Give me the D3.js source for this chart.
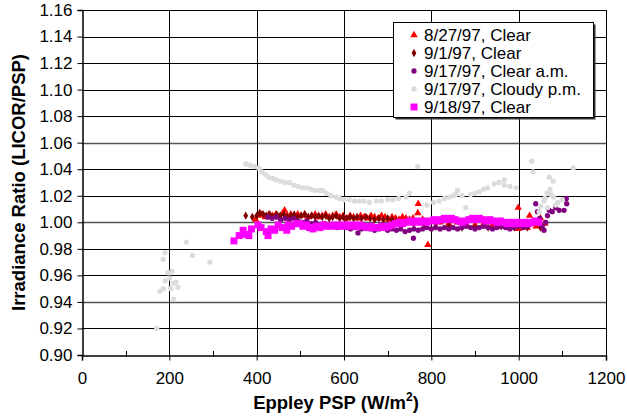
<!DOCTYPE html>
<html>
<head>
<meta charset="utf-8">
<script src="https://cdn.jsdelivr.net/npm/d3@7/dist/d3.min.js"></script>
<style>
	body { margin: 0; background: #fff; }
	text { font-family: "Liberation Sans", Arial, sans-serif; }
</style>
</head>
<body>
<div class="ratio-chart"></div>
<script>
// [Eppley PSP (W/m2), ratio]
let aug27Clear = [[398,1.002],[405,1.005],[412,1.006],[420,1.004],[428,1.006],[436,1.005],[444,1.006],[452,1.004],[460,1.007],[464,1.009],[470,1.005],[478,1.006],[486,1.004],[494,1.006],[502,1.005],[510,1.006],[518,1.004],[526,1.005],[534,1.006],[542,1.004],[550,1.005],[558,1.006],[566,1.004],[574,1.005],[582,1.006],[590,1.004],[598,1.005],[606,1.003],[614,1.005],[622,1.004],[630,1.003],[638,1.005],[646,1.004],[654,1.003],[662,1.005],[670,1.004],[678,1.003],[686,1.005],[694,1.004],[702,1.002],[710,1.004],[718,1.003],[726,1.002],[734,1.004],[742,1.003],[750,1.002],[758,1.003],[769,1.007],[770,1.014],[780,1.002],[792,0.983],[800,1.001],[820,1.000],[840,0.999],[860,1.000],[880,0.999],[900,0.998],[920,0.999],[940,0.998],[960,0.997],[980,0.996],[999,1.011],[1000,0.995],[1020,0.996],[1025,1.005],[1040,0.997],[1050,1.003],[1060,0.999]];
let sep1Clear = [[375,1.005],[390,1.004],[400,1.005],[407,1.007],[415,1.006],[422,1.005],[430,1.006],[438,1.004],[446,1.006],[454,1.005],[462,1.006],[470,1.004],[478,1.005],[486,1.006],[494,1.004],[502,1.005],[510,1.006],[518,1.004],[526,1.005],[534,1.004],[542,1.005],[550,1.004],[558,1.005],[566,1.003],[574,1.004],[582,1.005],[590,1.003],[598,1.004],[606,1.003],[614,1.004],[622,1.003],[630,1.004],[640,1.003],[650,1.004],[660,1.003],[670,1.002],[680,1.003],[690,1.002],[700,1.003],[710,1.002],[720,1.001],[740,1.000],[760,0.999],[784,0.998],[810,0.997],[840,0.997],[870,0.996],[900,0.996],[930,0.996],[960,0.997],[990,0.996],[1020,0.996],[1050,0.996]];
let sep17ClearAm = [[425,1.004],[435,1.003],[445,1.004],[455,1.002],[465,1.003],[475,1.002],[485,1.003],[495,1.001],[505,1.000],[515,1.001],[525,0.999],[535,1.000],[545,0.998],[555,0.999],[565,0.997],[575,0.998],[585,0.996],[595,0.997],[605,0.996],[615,0.995],[625,0.996],[632,0.992],[640,0.995],[650,0.996],[660,0.995],[670,0.994],[680,0.995],[690,0.996],[700,0.994],[710,0.995],[720,0.994],[730,0.995],[740,0.993],[750,0.994],[759,0.988],[760,0.995],[770,0.994],[780,0.995],[790,0.996],[800,0.995],[810,0.996],[820,0.995],[830,0.996],[840,0.995],[850,0.996],[860,0.995],[870,0.996],[880,0.997],[890,0.996],[900,0.995],[910,0.996],[920,0.997],[930,0.996],[940,0.995],[950,0.996],[960,0.997],[970,0.996],[980,0.995],[990,0.996],[1000,0.997],[1010,0.996],[1020,0.997],[1030,0.999],[1039,1.014],[1043,1.008],[1048,1.003],[1054,0.997],[1058,0.994],[1062,1.000],[1066,1.005],[1070,1.009],[1077,1.008],[1085,1.011],[1093,1.009],[1104,1.009],[1109,1.018],[1110,1.014]];
let sep17CloudyPm = [[171,0.920],[178,0.948],[186,0.950],[186,0.972],[190,0.977],[191,0.956],[197,0.962],[201,0.958],[203,0.950],[206,0.963],[209,0.954],[210,0.942],[215,0.955],[220,0.951],[239,0.985],[253,0.975],[293,0.970],
	[375,1.044],[385,1.043],[395,1.042],[405,1.041],[412,1.038],[420,1.036],[428,1.034],[437,1.033],[445,1.032],[455,1.031],[465,1.030],[475,1.030],[485,1.028],[495,1.027],[505,1.026],[514,1.026],[524,1.025],[534,1.024],[544,1.024],[551,1.024],[560,1.022],[570,1.020],[582,1.019],[590,1.018],[600,1.017],[612,1.017],[624,1.016],[635,1.016],[646,1.016],[658,1.015],[674,1.016],[686,1.016],[700,1.017],[712,1.017],[725,1.018],[742,1.019],[750,1.022],[769,1.042],[790,1.013],[805,1.015],[818,1.016],[830,1.018],[841,1.019],[850,1.020],[856,1.021],[860,1.024],[870,1.020],[879,1.011],[890,1.021],[900,1.022],[910,1.023],[920,1.025],[929,1.026],[944,1.029],[955,1.030],[967,1.032],[967,1.028],[980,1.027],[994,1.026],[1030,1.046],[1033,1.038],[1047,1.008],[1050,1.012],[1058,1.016],[1060,1.018],[1065,1.022],[1066,1.011],[1070,1.034],[1072,1.025],[1074,1.021],[1079,1.031],[1080,1.019],[1085,1.013],[1090,1.015],[1100,1.017],[1125,1.041]];
let sep18Clear = [[348,0.986],[360,0.990],[369,0.994],[375,0.991],[382,0.990],[388,0.995],[403,0.998],[410,0.996],[422,0.993],[426,0.990],[433,0.995],[441,0.994],[449,0.998],[458,0.996],[469,0.994],[472,0.998],[480,0.997],[491,0.999],[498,0.999],[506,0.997],[514,0.998],[521,0.996],[529,0.995],[537,0.997],[545,0.996],[553,0.998],[560,0.997],[567,0.997],[575,0.998],[583,0.997],[590,0.998],[598,0.997],[606,0.998],[614,0.997],[622,0.998],[630,0.997],[638,0.998],[646,0.997],[654,0.996],[662,0.997],[670,0.996],[678,0.996],[686,0.997],[694,0.996],[702,0.997],[710,0.998],[718,0.999],[726,1.000],[734,0.999],[742,1.000],[750,1.001],[758,1.000],[766,1.001],[774,1.000],[782,1.001],[790,1.000],[798,1.001],[806,1.002],[814,1.001],[822,1.002],[830,1.003],[838,1.002],[846,1.003],[854,1.002],[862,1.001],[870,1.000],[878,1.001],[886,1.002],[894,1.003],[902,1.002],[910,1.003],[918,1.002],[926,1.001],[934,1.002],[942,1.001],[950,1.000],[958,1.001],[966,1.000],[974,0.999],[982,1.000],[990,0.999],[998,1.000],[1006,0.999],[1014,1.000],[1022,0.999],[1030,1.000],[1038,1.001],[1046,1.000]];

let seriesNames = ['8/27/97, Clear', '9/1/97, Clear', '9/17/97, Clear a.m.', '9/17/97, Cloudy p.m.', '9/18/97, Clear'];
let xTicks = [0, 200, 400, 600, 800, 1000, 1200];
let xMinorTicks = [100, 300, 500, 700, 900, 1100];
let yTicks = [0.90, 0.92, 0.94, 0.96, 0.98, 1.00, 1.02, 1.04, 1.06, 1.08, 1.10, 1.12, 1.14, 1.16];

let series = [
	{ name: seriesNames[0], data: aug27Clear, color: '#ff0000', symbol: d3.symbolTriangle, size: 24 },
	{ name: seriesNames[1], data: sep1Clear, color: '#800000', symbol: d3.symbolDiamond, size: 20 },
	{ name: seriesNames[2], data: sep17ClearAm, color: '#800080', symbol: d3.symbolCircle, size: 22 },
	{ name: seriesNames[3], data: sep17CloudyPm, color: '#dcdcdc', symbol: d3.symbolCircle, size: 22 },
	{ name: seriesNames[4], data: sep18Clear, color: '#ff00ff', symbol: d3.symbolSquare, size: 49 }
];

let margin = { top: 10, right: 21, bottom: 62, left: 82 };
let width = 627 - margin.left - margin.right;
let height = 417 - margin.top - margin.bottom;

let xScale = d3.scaleLinear().domain([0, 1200]).range([0, width]);
let yScale = d3.scaleLinear().domain([0.90, 1.16]).range([height, 0]);

let svg = d3.select('.ratio-chart').append('svg')
	.attr('width', 627)
	.attr('height', 417);

let g = svg.append('g').attr('transform', 'translate(' + margin.left + ',' + margin.top + ')');

let isGrey = d => [1.06, 1.00, 0.94].some(v => Math.abs(v - d) < 1e-6);

// grid
g.append('g')
	.selectAll('line')
	.data(yTicks.slice(1))
	.enter().append('line')
	.attr('x1', 0)
	.attr('x2', width)
	.attr('y1', d => Math.round(yScale(d)) + 0.5)
	.attr('y2', d => Math.round(yScale(d)) + 0.5)
	.attr('stroke', d => isGrey(d) ? '#555' : '#000')
	.attr('stroke-width', d => isGrey(d) ? 1.4 : 1);

g.append('g')
	.selectAll('line')
	.data(xTicks.slice(1))
	.enter().append('line')
	.attr('x1', d => Math.round(xScale(d)) + 0.5)
	.attr('x2', d => Math.round(xScale(d)) + 0.5)
	.attr('y1', 0)
	.attr('y2', height)
	.attr('stroke', '#000')
	.attr('stroke-width', 1);

// axes
let xAxis = g.append('g')
	.attr('transform', 'translate(0,' + (height + 0.5) + ')')
	.call(d3.axisBottom(xScale).tickValues(xTicks).tickSize(5).tickPadding(11).tickFormat(d3.format('d')));
xAxis.select('.domain').attr('stroke-width', 1.5);

g.append('g')
	.selectAll('line')
	.data(xMinorTicks)
	.enter().append('line')
	.attr('x1', d => Math.round(xScale(d)) + 0.5)
	.attr('x2', d => Math.round(xScale(d)) + 0.5)
	.attr('y1', height - 4)
	.attr('y2', height + 2)
	.attr('stroke', '#000');

let yAxis = g.append('g')
	.attr('transform', 'translate(0.5,0)')
	.call(d3.axisLeft(yScale).tickValues(yTicks).tickSize(5).tickPadding(5).tickFormat(d3.format('.2f')));
yAxis.select('.domain').attr('stroke-width', 1.5);

g.selectAll('.tick text')
	.attr('font-family', '"Liberation Sans", Arial, sans-serif')
	.attr('font-size', 17)
	.attr('fill', '#000');

// points
series.forEach(function (s) {
	g.append('g')
		.selectAll('path')
		.data(s.data)
		.enter().append('path')
		.attr('transform', d => 'translate(' + xScale(d[0]) + ',' + yScale(d[1]) + ')')
		.attr('d', d3.symbol().type(s.symbol).size(s.size))
		.attr('fill', s.color);
});

// axis titles
svg.append('text')
	.attr('x', margin.left + xScale(600) - 8)
	.attr('y', 409)
	.attr('text-anchor', 'middle')
	.attr('font-size', 18.5)
	.attr('font-weight', 'bold')
	.html('Eppley PSP (W/m<tspan dy="-8" font-size="12">2</tspan><tspan dy="8">)</tspan>');

svg.append('text')
	.attr('transform', 'translate(25,' + (margin.top + height / 2) + ') rotate(-90)')
	.attr('text-anchor', 'middle')
	.attr('font-size', 18.5)
	.attr('font-weight', 'bold')
	.text('Irradiance Ratio (LICOR/PSP)');

// legend
let legend = svg.append('g').attr('transform', 'translate(393,22)');
legend.append('rect')
	.attr('x', 2.5).attr('y', 2.5)
	.attr('width', 200).attr('height', 95)
	.attr('fill', '#333');
legend.append('rect')
	.attr('x', 0.5).attr('y', 0.5)
	.attr('width', 200).attr('height', 95)
	.attr('fill', '#fff')
	.attr('stroke', '#000');

let item = legend.selectAll('.item')
	.data(series)
	.enter().append('g')
	.attr('transform', (d, i) => 'translate(0,' + (13 + i * 18) + ')');
item.append('path')
	.attr('transform', 'translate(21,0)')
	.attr('d', d => d3.symbol().type(d.symbol).size(d.size)())
	.attr('fill', d => d.color);
item.append('text')
	.attr('x', 31)
	.attr('y', 6)
	.attr('font-size', 17)
	.text(d => d.name);
</script>
</body>
</html>
